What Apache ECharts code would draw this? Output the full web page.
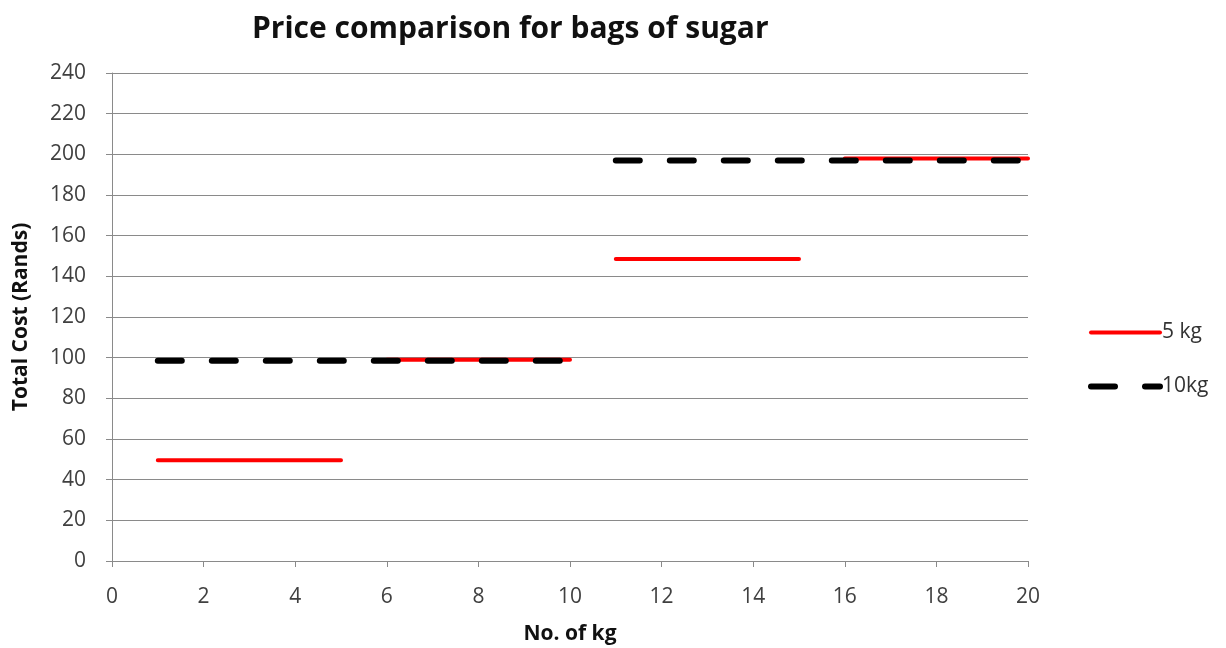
<!DOCTYPE html>
<html>
<head>
<meta charset="utf-8">
<script src="https://cdn.jsdelivr.net/npm/echarts@6/dist/echarts.min.js"></script>
<style>html,body{margin:0;padding:0;background:#fff}#c{width:1226px;height:648px}</style>
</head>
<body>
<div id="c"></div>
<script>
// ---- data ----
const kg = [1,2,3,4,5,6,7,8,9,10,11,12,13,14,15,16,17,18,19,20];
const cost5kg = [49.5,49.5,49.5,49.5,49.5, 99,99,99,99,99, 148.5,148.5,148.5,148.5,148.5, 198,198,198,198,198];
const cost10kg = [98.5,98.5,98.5,98.5,98.5,98.5,98.5,98.5,98.5,98.5, 197,197,197,197,197,197,197,197,197,197];
const seriesNames = ['5 kg', '10kg'];
const titleText = 'Price comparison for bags of sugar';
const xName = 'No. of kg';
const yName = 'Total Cost (Rands)';

// build step-segment data: break the line where the value changes
function segments(xs, ys) {
  const out = [];
  for (let i = 0; i < xs.length; i++) {
    if (i > 0 && ys[i] !== ys[i-1]) out.push([(xs[i] + xs[i-1]) / 2, '-']);
    out.push([xs[i], ys[i]]);
  }
  return out;
}

const FONT = '"Open Sans", Lato, sans-serif';
const chart = echarts.init(document.getElementById('c'));
chart.setOption({
  animation: false,
  backgroundColor: '#fff',
  title: {
    text: titleText, left: 247, top: 9,
    textStyle: { fontFamily: FONT, fontSize: 30, fontWeight: 'bold', color: '#111' }
  },
  legend: {
    orient: 'vertical', left: 1083, top: 317, itemGap: 33,
    itemWidth: 69, itemHeight: 18,
    itemStyle: { opacity: 0 },
    textStyle: { fontFamily: FONT, fontSize: 21, color: '#333', padding: [0, 0, 0, -3] },
    data: [
      { name: seriesNames[0], lineStyle: { width: 4 } },
      { name: seriesNames[1], lineStyle: { width: 6 } }
    ]
  },
  grid: { left: 112, right: 198, top: 73, bottom: 87, containLabel: false, outerBoundsMode: 'none' },
  xAxis: {
    type: 'value', min: 0, max: 20, interval: 2,
    name: xName, nameLocation: 'middle', nameGap: 63,
    nameTextStyle: { fontFamily: FONT, fontSize: 21, fontWeight: 'bold', color: '#111' },
    axisLine: { show: true, lineStyle: { color: '#8a8a8a', width: 1 } },
    axisTick: { show: true, length: 6, lineStyle: { color: '#8a8a8a' } },
    axisLabel: { fontFamily: FONT, fontSize: 21, color: '#404040', margin: 26 },
    splitLine: { show: false }
  },
  yAxis: {
    type: 'value', min: 0, max: 240, interval: 20,
    name: yName, nameLocation: 'middle', nameGap: 80,
    nameTextStyle: { fontFamily: FONT, fontSize: 21, fontWeight: 'bold', color: '#111' },
    axisLine: { show: true, lineStyle: { color: '#8a8a8a', width: 1 } },
    axisTick: { show: true, length: 6, lineStyle: { color: '#8a8a8a' } },
    axisLabel: { fontFamily: FONT, fontSize: 21, color: '#404040', margin: 26 },
    splitLine: { show: true, lineStyle: { color: '#8a8a8a', width: 1 } }
  },
  series: [
    {
      name: seriesNames[0], type: 'line', data: segments(kg, cost5kg),
      symbol: 'none', connectNulls: false,
      color: '#ff0000',
      lineStyle: { color: '#ff0000', width: 4, cap: 'round' }
    },
    {
      name: seriesNames[1], type: 'line', data: segments(kg, cost10kg),
      symbol: 'none', connectNulls: false,
      color: '#000000',
      lineStyle: { color: '#000000', width: 6, type: [24, 30], cap: 'round' }
    }
  ]
});
</script>
</body>
</html>
